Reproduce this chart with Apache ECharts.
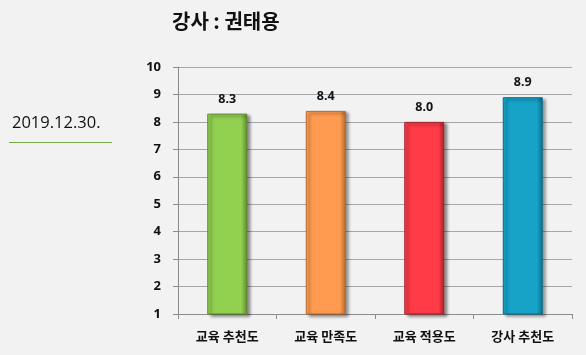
<!DOCTYPE html>
<html><head><meta charset="utf-8">
<script src="https://cdn.jsdelivr.net/npm/echarts@6/dist/echarts.min.js"></script>
<style>html,body{margin:0;padding:0;background:#f2f2f2;}#c{width:586px;height:355px;}</style>
</head><body><div id="c"></div>
<script>
const categories = ['교육 추천도', '교육 만족도', '교육 적용도', '강사 추천도'];
const values = [8.3, 8.4, 8.0, 8.9];
const colors = ['#92d050', '#ff9b50', '#ff3b47', '#17a3c8'];
const borders = ['#5e8a2c', '#b86a2c', '#a8222a', '#0d6e88'];
const yTicks = [1, 2, 3, 4, 5, 6, 7, 8, 9, 10];
const titleText = '강사 : 권태용';
const dateText = '2019.12.30.';

const chart = echarts.init(document.getElementById('c'), null, {renderer: 'canvas'});
const font = "'Noto Sans CJK KR', 'Noto Sans', sans-serif";
chart.setOption({
  backgroundColor: '#f2f2f2',
  animation: false,
  title: {
    text: titleText, left: 167, top: 6,
    textStyle: {fontSize: 20, fontWeight: 'bold', color: '#111', fontFamily: font}
  },
  graphic: [
    {type: 'text', left: 12, top: 115, style: {text: dateText, fontSize: 16.5, fill: '#111', fontFamily: "'Open Sans', 'Noto Sans', sans-serif"}},
    {type: 'line', shape: {x1: 9, y1: 142.5, x2: 112, y2: 142.5}, style: {stroke: '#70ad47', lineWidth: 1}}
  ],
  grid: {left: 178, right: 14, top: 67, bottom: 41},
  xAxis: {
    type: 'category', data: categories,
    axisLine: {lineStyle: {color: '#8c8c8c'}},
    axisTick: {show: true, length: 5, lineStyle: {color: '#8c8c8c'}},
    axisLabel: {margin: 16, fontSize: 13, fontWeight: 'bold', color: '#111', fontFamily: font}
  },
  yAxis: {
    type: 'value', min: yTicks[0], max: yTicks[yTicks.length - 1], interval: 1,
    axisLine: {show: true, lineStyle: {color: '#8c8c8c'}},
    axisTick: {show: true, length: 5, lineStyle: {color: '#8c8c8c'}},
    splitLine: {lineStyle: {color: '#a6a6a6'}},
    axisLabel: {margin: 17, fontSize: 13, fontWeight: 'bold', color: '#111', fontFamily: "'Noto Sans', sans-serif"}
  },
  series: [{
    type: 'bar', barWidth: 40,
    data: values.map((v, i) => ({
      value: v,
      itemStyle: {
        color: {type: 'linear', x: 0, y: 0, x2: 1, y2: 0, colorStops: [
          {offset: 0, color: colors[i]}, {offset: 0.85, color: colors[i]}, {offset: 1, color: borders[i]}]},
        borderColor: borders[i], borderWidth: 1,
        shadowColor: 'rgba(0,0,0,0.45)', shadowBlur: 3, shadowOffsetX: 3, shadowOffsetY: 2
      }
    })),
    label: {
      show: true, position: 'top', distance: 8,
      formatter: p => p.value.toFixed(1),
      fontSize: 12.5, fontWeight: 'bold', color: '#111', fontFamily: "'Noto Sans', sans-serif"
    }
  }]
});
</script></body></html>
